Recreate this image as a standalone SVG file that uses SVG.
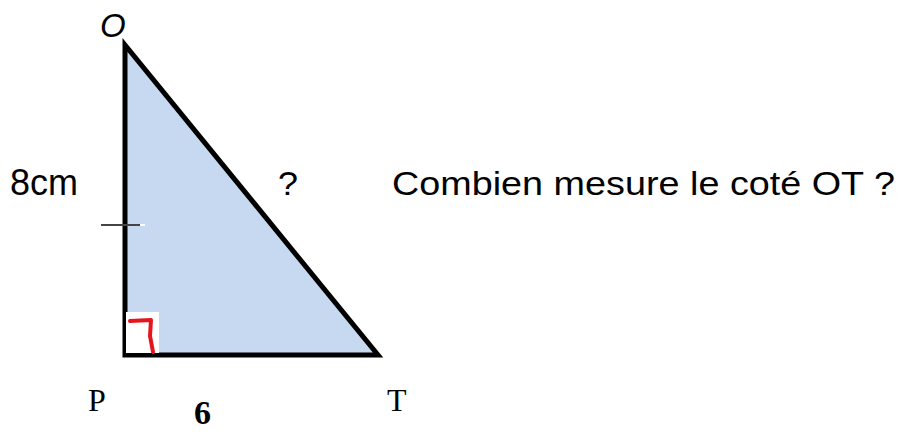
<svg xmlns="http://www.w3.org/2000/svg" width="901" height="434" viewBox="0 0 901 434">
<style>
.sans{font-family:"Liberation Sans","DejaVu Sans",sans-serif;fill:#000}
.serif{font-family:"Liberation Serif","DejaVu Serif",serif;fill:#000}
</style>
<rect width="901" height="434" fill="#fff"/>
<g id="triangle">
<polygon points="125,45 125,355 378,355" fill="#c6d9f0" stroke="#000" stroke-width="5" stroke-linejoin="miter"/>
<rect x="126" y="312" width="33" height="41" fill="#fff"/>
<path d="M130,321 L151,320 L150,336 L153,352" fill="none" stroke="#e8141b" stroke-width="4" stroke-linecap="round" stroke-linejoin="round"/>
<line x1="101" y1="225" x2="140" y2="225" stroke="#444" stroke-width="2"/>
<line x1="140" y1="225" x2="145" y2="225" stroke="#fff" stroke-width="2"/>
</g>
<g id="labels">
<text class="sans" x="100" y="37" font-size="33" font-style="italic">O</text>
<text class="sans" x="10" y="195" font-size="37" textLength="68" lengthAdjust="spacingAndGlyphs">8cm</text>
<text class="sans" x="278" y="195" font-size="34" textLength="20" lengthAdjust="spacingAndGlyphs">?</text>
<text class="sans" x="392" y="195" font-size="34" textLength="503" lengthAdjust="spacingAndGlyphs">Combien mesure le coté OT ?</text>
<text class="serif" x="88" y="411" font-size="32">P</text>
<text class="serif" x="387" y="411" font-size="32">T</text>
<text class="serif" x="194" y="424" font-size="34" font-weight="bold" textLength="17" lengthAdjust="spacingAndGlyphs">6</text>
</g>
</svg>
